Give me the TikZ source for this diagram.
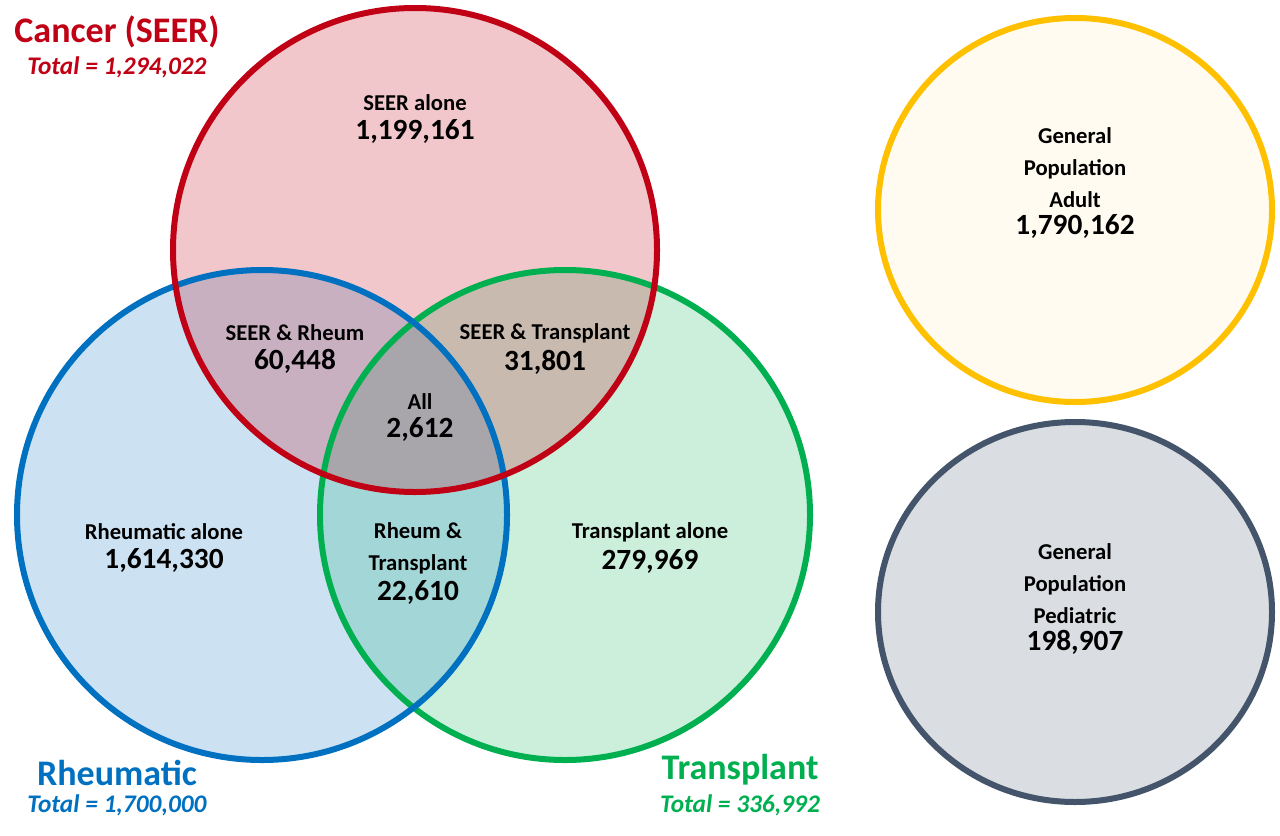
\documentclass[tikz,border=0pt]{standalone}
\usepackage{fontspec}
\setmainfont{Carlito}
\usetikzlibrary{positioning,shapes.geometric}
\definecolor{seerred}{RGB}{192,0,20}
\definecolor{rheublue}{RGB}{0,112,192}
\definecolor{transgreen}{RGB}{0,176,80}
\definecolor{adultgold}{RGB}{255,192,0}
\definecolor{pedslate}{RGB}{68,84,106}
\tikzset{every picture/.style={line width=0.75pt},
  set/.style={circle,minimum size=#1,inner sep=0pt,line width=4.5pt},
  lbl/.style={font=\bfseries\fontsize{17}{24}\selectfont,align=center,inner sep=0.75pt},
  num/.style={font=\bfseries\fontsize{22}{26}\selectfont,inner sep=0.75pt},
  ttl/.style={font=\bfseries\fontsize{27}{30}\selectfont,inner sep=0.75pt},
  tot/.style={font=\bfseries\itshape\fontsize{19}{22}\selectfont,inner sep=0.75pt}}

\begin{document}
\begin{tikzpicture}[x=0.75pt,y=0.75pt,yscale=-1]
\useasboundingbox (0,0) rectangle (1280,835);

% fills
\fill [transgreen,fill opacity=0.2] (565,515) circle (245);
\fill [rheublue,fill opacity=0.2] (262,515) circle (245);
\fill [seerred,fill opacity=0.22] (415,250) circle (242);

% outlines
\node (trans) [set=367.5pt,draw=transgreen] at (565,515) {};
\node (rheu) [set=367.5pt,draw=rheublue] at (262,515) {};
\node (seer) [set=363pt,draw=seerred] at (415,250) {};
\node (adult) [ellipse,minimum width=295.5pt,minimum height=288pt,inner sep=0pt,line width=4.5pt,draw=adultgold,fill=adultgold!6] at (1075,210) {};
\node (peds) [ellipse,minimum width=295.5pt,minimum height=285pt,inner sep=0pt,line width=4.5pt,draw=pedslate,fill=pedslate!20] at (1075,612) {};

% region labels
\node (seerA) [lbl] at (415,103) {SEER alone};
\node [num,below=5 of seerA] {1,199,161};
\node (sr) [lbl] at (295,333) {SEER \& Rheum};
\node [num,below=5 of sr] {60,448};
\node (st) [lbl] at (545,333) {SEER \& Transplant};
\node [num,below=5 of st] {31,801};
\node (all) [lbl] at (420,402) {All};
\node [num,below=5 of all] {2,612};
\node (rA) [lbl] at (164,532) {Rheumatic alone};
\node [num,below=5 of rA] {1,614,330};
\node (rt) [lbl] at (418,548) {Rheum \&\\Transplant};
\node [num,below=4 of rt] {22,610};
\node (tA) [lbl] at (650,532) {Transplant alone};
\node [num,below=5 of tA] {279,969};
\node (ad) [lbl] at (1075,168) {General\\Population\\Adult};
\node [num,below=3 of ad] {1,790,162};
\node (pd) [lbl] at (1075,584) {General\\Population\\Pediatric};
\node [num,below=3 of pd] {198,907};

% set titles
\node (seerT) [ttl,text=seerred] at (117,32) {Cancer (SEER)};
\node [tot,text=seerred,below=6 of seerT] {Total = 1,294,022};
\node (rheuT) [ttl,text=rheublue] at (117,773) {Rheumatic};
\node [tot,text=rheublue,below=6 of rheuT] {Total = 1,700,000};
\node (transT) [ttl,text=transgreen] at (740,770) {Transplant};
\node [tot,text=transgreen,below=6 of transT] {Total = 336,992};

\end{tikzpicture}
\end{document}
